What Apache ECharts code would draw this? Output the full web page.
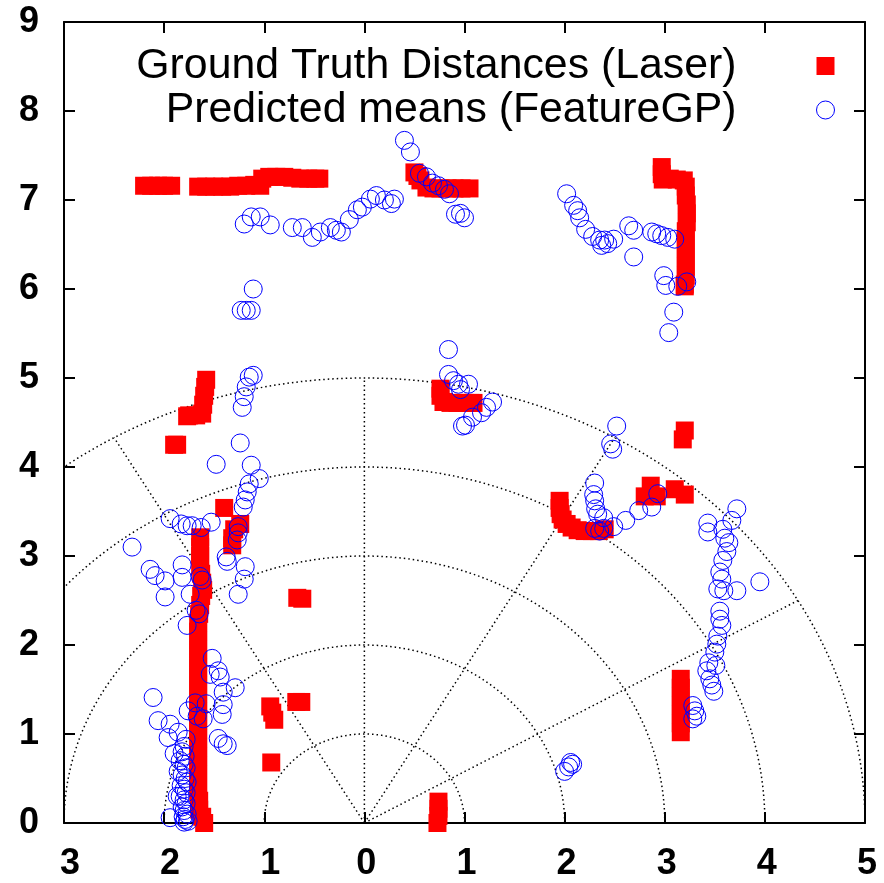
<!DOCTYPE html>
<html><head><meta charset="utf-8">
<script src="https://cdn.jsdelivr.net/npm/echarts@6/dist/echarts.min.js"></script>
<style>html,body{margin:0;padding:0;background:#fff}#chart{width:884px;height:883px}</style>
</head><body><div id="chart"></div>
<script>
// ---------- tick labels ----------
const xTickValues = [-3,-2,-1,0,1,2,3,4,5];
const xTickLabels = ['3','2','1','0','1','2','3','4','5'];
const yTickLabels = ['0','1','2','3','4','5','6','7','8','9'];

// ---------- polar reference grid ----------
const gridRadii = [1,2,3,4,5];
const gridSpokeAngles = [30,60,90,120];

// ---------- series names ----------
const laserName = 'Ground Truth Distances (Laser)';
const gpName = 'Predicted means (FeatureGP)';

// ---------- Ground truth (laser) points [x, y] ----------
const laserTopLeft = [[-2.2,7.16],[-2.13,7.16],[-2.06,7.16],[-2.0,7.16],[-1.93,7.16],
  [-1.66,7.15],[-1.58,7.15],[-1.5,7.15],[-1.42,7.15],[-1.34,7.15],[-1.26,7.16],[-1.18,7.16],[-1.1,7.17],[-1.04,7.16],
  [-1.02,7.24],[-0.95,7.26],[-0.88,7.26],[-0.8,7.26],[-0.72,7.25],[-0.64,7.24],[-0.56,7.24],[-0.49,7.24],[-0.45,7.24]];
const laserTopMid = [[0.5,7.31],[0.53,7.27],[0.56,7.22],[0.62,7.14],[0.69,7.13],[0.76,7.13],[0.83,7.13],[0.9,7.13],[0.97,7.13],[1.05,7.13]];
const laserTopRight = [[2.97,7.37],[2.97,7.29],[2.98,7.23],[3.05,7.24],[3.12,7.23],[3.19,7.22],[3.21,7.15],[3.21,7.05],[3.22,6.95],
  [3.22,6.85],[3.22,6.75],[3.21,6.65],[3.21,6.55],[3.21,6.45],[3.21,6.35],[3.21,6.25],[3.21,6.15],[3.2,6.05],[3.2,6.03]];
const laserLeftUpper = [[-1.58,4.98],[-1.59,4.9],[-1.6,4.8],[-1.61,4.7],[-1.62,4.6],[-1.68,4.58],[-1.75,4.58],[-1.77,4.57],
  [-1.9,4.25],[-1.87,4.25]];
const laserLeftMid = [[-1.4,3.54],[-1.24,3.36],[-1.3,3.3],[-1.32,3.2],[-1.32,3.12]];
const laserLeftColumn = [[-1.64,3.21],[-1.64,3.1],[-1.64,3.0],[-1.64,2.9],[-1.63,2.8],[-1.62,2.7],[-1.61,2.62],[-1.63,2.55],[-1.64,2.45],
  [-1.65,2.35],[-1.66,2.25],[-1.66,2.15],[-1.66,2.05],[-1.66,1.95],[-1.66,1.85],[-1.66,1.75],[-1.66,1.65],[-1.66,1.55],[-1.66,1.45],
  [-1.66,1.35],[-1.66,1.25],[-1.66,1.15],[-1.66,1.05],[-1.66,0.95],[-1.66,0.85],[-1.66,0.75],[-1.66,0.65],[-1.66,0.55],[-1.66,0.45],
  [-1.66,0.35],[-1.65,0.25],[-1.65,0.15],[-1.62,0.07],[-1.6,0.0]];
const laserLowerLeft = [[-0.67,2.53],[-0.62,2.52],[-0.94,1.31],[-0.92,1.24],[-0.9,1.16],[-0.68,1.36],[-0.63,1.36],[-0.93,0.68]];
const laserBottomMid = [[0.74,0.24],[0.74,0.16],[0.74,0.08],[0.73,0.0]];
const laserCenter = [[0.76,4.88],[0.76,4.8],[0.79,4.73],[0.86,4.72],[0.93,4.72],[1.0,4.72],[1.06,4.72],[1.09,4.72]];
const laserArc = [[1.95,3.62],[1.95,3.54],[1.96,3.47],[1.98,3.41],[2.02,3.36],[2.07,3.32],[2.13,3.29],[2.2,3.28],[2.27,3.28],[2.34,3.28],[2.4,3.3]];
const laserRightMid = [[2.86,3.79],[2.8,3.67],[2.92,3.67],[3.1,3.75],[3.2,3.69],[3.2,4.41],[3.18,4.31]];
const laserRightLower = [[3.16,1.62],[3.16,1.52],[3.16,1.42],[3.16,1.32],[3.16,1.22],[3.16,1.12],[3.16,1.02]];

// ---------- Predicted means (FeatureGP) points [x, y] ----------
const gpTopLeft = [[-1.2,6.73],[-1.13,6.81],[-1.04,6.81],[-0.94,6.72],[-0.72,6.69],[-0.62,6.69],[-0.52,6.58],[-0.44,6.64],[-0.34,6.69],
  [-0.28,6.66],[-0.23,6.64],[-0.15,6.78],[-0.07,6.89],[-0.02,6.92],[0.06,7.01],[0.12,7.05],[0.2,7.0],[0.27,6.96],[0.3,7.01]];
const gpTopMid = [[0.4,7.67],[0.46,7.54],[0.55,7.3],[0.62,7.26],[0.68,7.19],[0.74,7.16],[0.8,7.12],[0.85,7.07],[0.91,6.84],[0.96,6.85],[1.0,6.8]];
const gpTopRight = [[2.02,7.07],[2.09,6.94],[2.13,6.88],[2.15,6.8],[2.21,6.67],[2.28,6.59],[2.35,6.55],[2.37,6.49],[2.4,6.55],[2.43,6.51],
  [2.49,6.56],[2.64,6.71],[2.69,6.66],[2.87,6.64],[2.92,6.62],[2.97,6.6],[3.03,6.58],[3.1,6.56],[2.69,6.36],[2.99,6.15],[3.01,6.04],
  [3.13,6.03],[3.22,6.08],[3.09,5.74],[3.04,5.51]];
const gpCenter = [[0.84,5.32],[0.84,5.04],[0.89,4.97],[0.94,4.93],[1.04,4.93],[0.96,4.87],[1.28,4.73],[1.22,4.67],[1.17,4.61],[1.08,4.56],[1.01,4.47],[0.98,4.46]];
const gpArcRight = [[2.3,3.82],[2.29,3.69],[2.3,3.62],[2.31,3.53],[2.33,3.47],[2.3,3.31],[2.35,3.28],[2.52,4.46],[2.46,4.26],[2.48,4.2],
  [2.39,3.43],[2.39,3.31],[2.49,3.33],[2.61,3.4],[2.74,3.51],[2.87,3.55],[2.93,3.7]];
const gpRightColumn = [[3.43,3.37],[3.43,3.27],[3.72,3.53],[3.67,3.4],[3.58,3.3],[3.6,3.2],[3.64,3.15],[3.62,3.05],[3.58,2.95],[3.55,2.82],
  [3.57,2.74],[3.53,2.63],[3.59,2.61],[3.72,2.61],[3.95,2.71],[3.55,2.38],[3.55,2.29],[3.57,2.22],[3.53,2.1],[3.52,2.01],[3.5,1.92],
  [3.44,1.8],[3.51,1.77],[3.42,1.71],[3.45,1.62],[3.47,1.55],[3.49,1.48],[3.28,1.32],[3.3,1.26],[3.32,1.2],[3.28,1.17]];
const gpBottomMid = [[2.06,0.68],[2.08,0.66],[2.0,0.58],[2.04,0.63]];
const gpLeftUpper = [[-1.11,6.0],[-1.23,5.76],[-1.18,5.76],[-1.13,5.76],[-1.15,5.01],[-1.11,5.03],[-1.18,4.9],[-1.2,4.79],[-1.22,4.67],
  [-1.24,4.27],[-1.48,4.03],[-1.13,4.02],[-1.05,3.87],[-1.15,3.81],[-1.17,3.72],[-1.19,3.63],[-1.21,3.55]];
const gpLeftMid = [[-1.94,3.42],[-1.83,3.36],[-1.77,3.34],[-1.72,3.34],[-1.63,3.32],[-1.53,3.38],[-1.26,3.33],[-1.26,3.26],[-1.27,3.18],
  [-2.32,3.1],[-1.38,2.99]];
const gpLeftLower = [[-2.14,2.85],[-2.09,2.78],[-1.99,2.72],[-1.99,2.54],[-1.82,2.9],[-1.82,2.76],[-1.74,2.57],[-1.64,2.77],[-1.62,2.73],
  [-1.68,2.39],[-1.65,2.35],[-1.77,2.22],[-1.37,2.94],[-1.19,2.88],[-1.2,2.74],[-1.26,2.57]];
const gpLeftLow = [[-1.52,1.85],[-1.54,1.67],[-1.46,1.71],[-1.44,1.64],[-1.29,1.52],[-1.41,1.47],[-2.11,1.41],[-1.76,1.26],[-1.69,1.35],
  [-1.58,1.34],[-1.41,1.33],[-1.42,1.22],[-2.06,1.15],[-1.94,1.11],[-1.67,1.2],[-1.61,1.17],[-1.96,0.96],[-1.86,1.02],[-1.46,0.95],
  [-1.41,0.89],[-1.37,0.87],[-1.9,0.78],[-1.78,0.94]];
const gpLeftBottom = [[-1.8,0.86],[-1.82,0.8],[-1.79,0.75],[-1.84,0.7],[-1.8,0.66],[-1.78,0.62],[-1.86,0.58],[-1.82,0.54],[-1.79,0.5],
  [-1.77,0.46],[-1.83,0.42],[-1.8,0.38],[-1.78,0.34],[-1.84,0.3],[-1.8,0.26],[-1.78,0.22],[-1.82,0.18],[-1.8,0.14],[-1.77,0.1],
  [-1.81,0.07],[-1.79,0.04],[-1.8,0.01],[-1.94,0.06],[-1.76,0.02],[-1.87,0.3]];

const laserPoints = [].concat(laserTopLeft, laserTopMid, laserTopRight, laserLeftUpper, laserLeftMid, laserLeftColumn,
  laserLowerLeft, laserBottomMid, laserCenter, laserArc, laserRightMid, laserRightLower);
const gpPoints = [].concat(gpTopLeft, gpTopMid, gpTopRight, gpCenter, gpArcRight, gpRightColumn, gpBottomMid,
  gpLeftUpper, gpLeftMid, gpLeftLower, gpLeftLow, gpLeftBottom);

const polarGridData = gridRadii.map(r => [0, r]).concat(gridSpokeAngles.map(a => [1, a]));
const maxRadius = gridRadii[gridRadii.length - 1];

const FONT = "'Liberation Sans', Arial, sans-serif";
const chart = echarts.init(document.getElementById('chart'), null, {renderer: 'canvas'});

const tickStyle = {show: true, inside: true, length: 11, lineStyle: {color: '#000', width: 2}};
const lineStyle = {show: true, onZero: false, lineStyle: {color: '#000', width: 2}};

chart.setOption({
  animation: false,
  backgroundColor: '#fff',
  grid: {left: 64, right: 19, top: 22, bottom: 60, containLabel: false},
  legend: {
    orient: 'vertical', right: 49, top: 44, align: 'right', padding: 0,
    itemWidth: 18, itemHeight: 18, itemGap: 0, selectedMode: false,
    textStyle: {fontSize: 42.8, fontFamily: FONT, color: '#000', lineHeight: 44, padding: [0, 75, 0, 0]},
    data: [{name: laserName}, {name: gpName, itemStyle: {borderWidth: 1, borderColor: '#0000ff', color: 'transparent'}}]
  },
  xAxis: [{
    type: 'value', min: -3, max: 5, interval: 1, position: 'bottom',
    axisLine: lineStyle, axisTick: tickStyle, splitLine: {show: false},
    axisLabel: {
      margin: 23, color: '#000', fontSize: 36, fontWeight: 'bold', fontFamily: FONT,
      formatter: v => {
        const i = xTickValues.indexOf(v);
        const t = i >= 0 ? xTickLabels[i] : '';
        return v < 0 ? '{n|' + t + '}' : '{p|' + t + '}';
      },
      rich: {
        n: {fontSize: 36, fontWeight: 'bold', fontFamily: FONT, color: '#000', padding: [0, 0, 0, 12]},
        p: {fontSize: 36, fontWeight: 'bold', fontFamily: FONT, color: '#000', padding: [0, 0, 0, 4]}
      }
    }
  }, {
    type: 'value', min: -3, max: 5, interval: 1, position: 'top',
    axisLine: lineStyle, axisTick: tickStyle, splitLine: {show: false}, axisLabel: {show: false}
  }],
  yAxis: [{
    type: 'value', min: 0, max: 9, interval: 1, position: 'left',
    axisLine: lineStyle, axisTick: tickStyle, splitLine: {show: false},
    axisLabel: {margin: 25, color: '#000', fontSize: 36, fontWeight: 'bold', fontFamily: FONT,
      formatter: v => yTickLabels[Math.round(v)] || ''}
  }, {
    type: 'value', min: 0, max: 9, interval: 1, position: 'right',
    axisLine: lineStyle, axisTick: tickStyle, splitLine: {show: false}, axisLabel: {show: false}
  }],
  series: [{
    type: 'custom', name: 'polar grid', silent: true, z: 1,
    xAxisIndex: 0, yAxisIndex: 0,
    data: polarGridData,
    renderItem: (params, api) => {
      const kind = api.value(0), v = api.value(1);
      let pts = [];
      if (kind === 0) {
        for (let a = 0; a <= 180; a += 1) {
          const t = a * Math.PI / 180;
          pts.push(api.coord([v * Math.cos(t), v * Math.sin(t)]));
        }
      } else {
        const t = v * Math.PI / 180;
        pts = [api.coord([0, 0]), api.coord([maxRadius * Math.cos(t), maxRadius * Math.sin(t)])];
      }
      const cs = params.coordSys;
      return {
        type: 'polyline', shape: {points: pts},
        style: {stroke: '#000', lineWidth: 1.5, lineDash: [1.5, 3], fill: null},
        clipPath: {type: 'rect', shape: {x: cs.x, y: cs.y, width: cs.width, height: cs.height}}
      };
    }
  }, {
    type: 'scatter', name: laserName, z: 2, clip: false,
    symbol: 'rect', symbolSize: 18,
    itemStyle: {color: '#ff0000', opacity: 1},
    data: laserPoints
  }, {
    type: 'scatter', name: gpName, z: 3, clip: false,
    symbol: 'circle', symbolSize: 18,
    itemStyle: {color: 'transparent', borderColor: '#0000ff', borderWidth: 1, opacity: 1},
    data: gpPoints
  }]
});
</script></body></html>
